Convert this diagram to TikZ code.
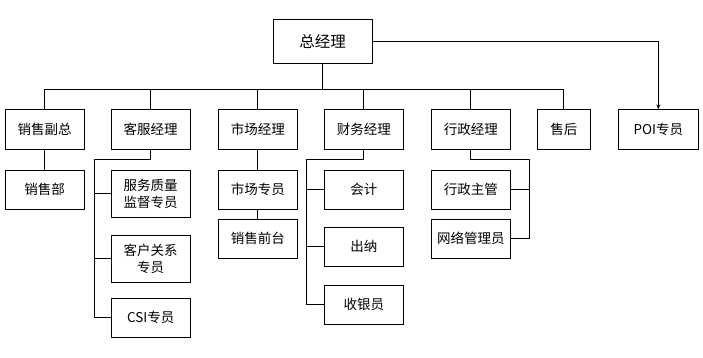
\documentclass[tikz,border=0pt]{standalone}
\usepackage{fontspec}
\setmainfont{Noto Sans CJK SC}
\usetikzlibrary{arrows.meta}
\begin{document}
\begin{tikzpicture}[x=1pt,y=-1pt,
  box/.style={draw,line width=1pt,inner sep=0pt,align=center,minimum width=79.3pt,minimum height=39.3pt,font=\fontsize{13.5}{17}\selectfont},
  conn/.style={line width=1pt},
]
\useasboundingbox[fill=white] (0,0) rectangle (703,358);
\node[box,minimum width=99pt,minimum height=44pt,font=\fontsize{15.5}{18}\selectfont] (gm) at (322.5,42) {总经理};
\node[box] (xsfz) at (44.7,129.5) {销售副总};
\node[box] (kfjl) at (150.7,129.5) {客服经理};
\node[box] (scjl) at (257.8,129.5) {市场经理};
\node[box] (cwjl) at (363.8,129.5) {财务经理};
\node[box] (xzjl) at (470.8,129.5) {行政经理};
\node[box,minimum width=53pt] (sh) at (563.8,129.5) {售后};
\node[box,minimum width=80pt] (poi) at (658.3,129.5) {POI专员};
\node[box] (xsb) at (44.7,189.7) {销售部};
\node[box,minimum height=47.3pt] (fwzl) at (150.7,193.7) {服务质量\\监督专员};
\node[box,minimum height=47.3pt] (khgx) at (150.7,258.7) {客户关系\\专员};
\node[box] (csi) at (150.7,317.7) {CSI专员};
\node[box] (sczy) at (257.8,189.7) {市场专员};
\node[box] (xsqt) at (257.8,238.7) {销售前台};
\node[box] (kj) at (363.8,189.7) {会计};
\node[box] (cn) at (363.8,246.8) {出纳};
\node[box] (syy) at (363.8,304.7) {收银员};
\node[box] (xzzg) at (470.8,189.7) {行政主管};
\node[box] (wlgly) at (470.8,238.8) {网络管理员};
\coordinate (kf) at (94.3,160);
\coordinate (cw) at (306.3,160);
\coordinate (xz) at (529.3,160);
\foreach \n in {xsfz,kfjl,scjl,cwjl,xzjl,sh}
  \draw[conn] (gm.south) -- ++(0,25.3) -| (\n.north);
\draw[conn,-{Stealth[length=5pt,width=4pt]}] (gm.east) -| (poi.north);
\draw[conn] (xsfz.south) -- (xsb.north);
\draw[conn] (kfjl.south) |- (kf) |- (fwzl.west);
\draw[conn] (kf) |- (khgx.west);
\draw[conn] (kf) |- (csi.west);
\draw[conn] (scjl.south) -- (sczy.north);
\draw[conn] (sczy.south) -- (xsqt.north);
\draw[conn] (cwjl.south) |- (cw) |- (kj.west);
\draw[conn] (cw) |- (cn.west);
\draw[conn] (cw) |- (syy.west);
\draw[conn] (xzjl.south) |- (xz) |- (xzzg.east);
\draw[conn] (xz) |- (wlgly.east);
\end{tikzpicture}
\end{document}
